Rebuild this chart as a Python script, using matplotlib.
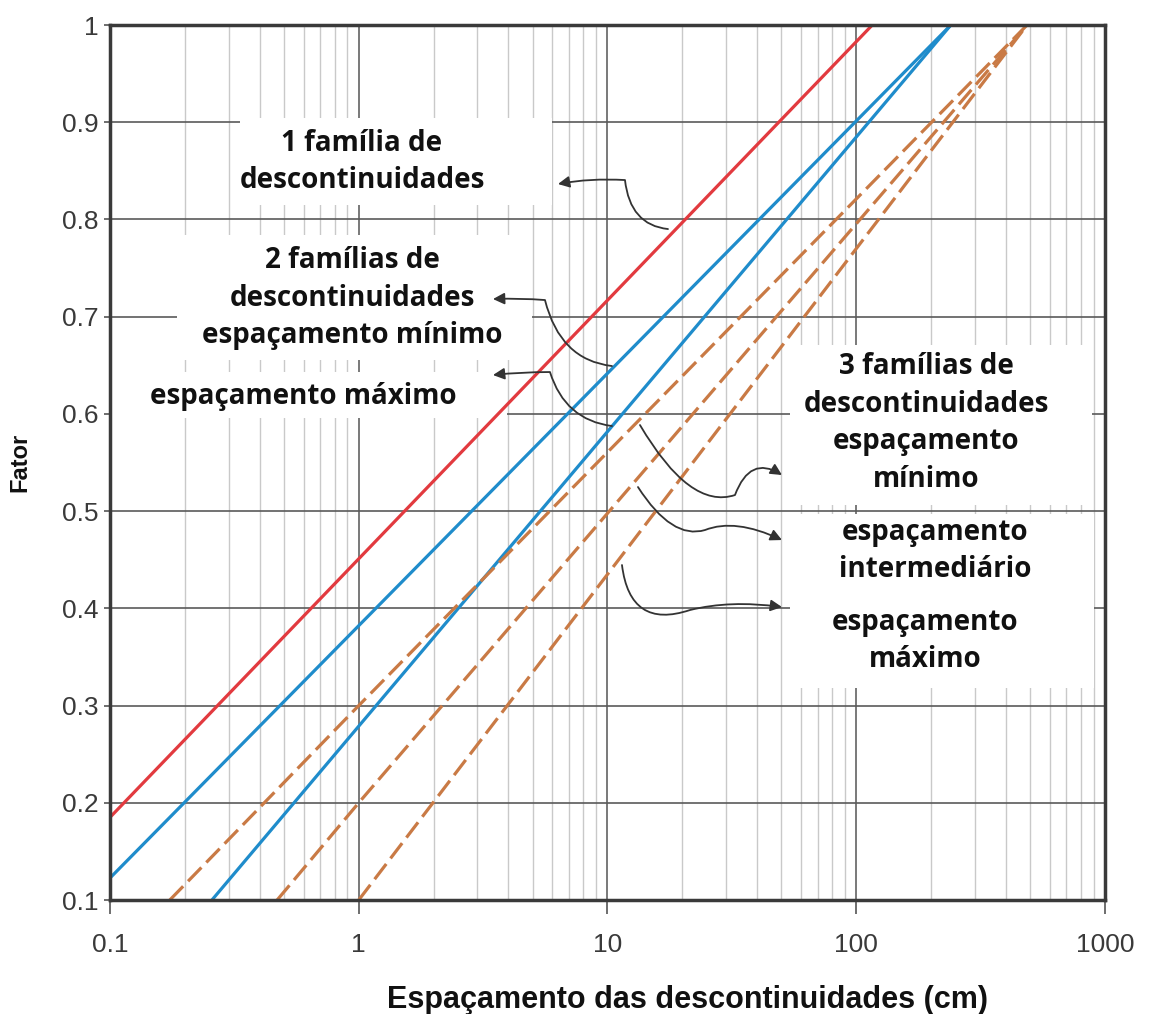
import numpy as np
import matplotlib
matplotlib.use("Agg")
import matplotlib.pyplot as plt
from matplotlib.path import Path
from matplotlib.patches import FancyArrowPatch, Rectangle
from matplotlib.ticker import FixedLocator, NullFormatter

# Data: each curve is a straight line on the semi-log plot (end points)
red_x = [0.1, 116.0]
red_y = [0.185, 1.0]

blue1_x = [0.1, 240.0]
blue1_y = [0.1226, 1.0]

blue2_x = [0.257, 240.0]
blue2_y = [0.1, 1.0]

orange1_x = [0.174, 1.0, 486.0]
orange1_y = [0.1, 0.3, 1.0]

orange2_x = [0.47, 1.0, 486.0]
orange2_y = [0.1, 0.2, 1.0]

orange3_x = [1.0, 486.0]
orange3_y = [0.1, 1.0]

x_ticks = [0.1, 1, 10, 100, 1000]
x_ticklabels = ["0.1", "1", "10", "100", "1000"]
y_ticks = [0.1, 0.2, 0.3, 0.4, 0.5, 0.6, 0.7, 0.8, 0.9, 1.0]
y_ticklabels = ["0.1", "0.2", "0.3", "0.4", "0.5", "0.6", "0.7", "0.8", "0.9", "1"]

RED = "#e23a3f"
BLUE = "#1f8ccb"
ORANGE = "#c97a45"

tick_font = ["Liberation Sans", "DejaVu Sans"]
label_font = ["Open Sans", "DejaVu Sans"]

fig = plt.figure(figsize=(11.49, 10.14), dpi=100)
ax = fig.add_axes([0.0957, 0.1124, 0.866, 0.8629])

ax.set_xscale("log")
ax.set_xlim(0.1, 1000)
ax.set_ylim(0.1, 1.0)

# grid
ax.xaxis.set_minor_locator(FixedLocator(
    [m * 10.0 ** e for e in range(-1, 3) for m in range(2, 10)]))
ax.xaxis.set_minor_formatter(NullFormatter())
ax.grid(True, axis="x", which="minor", color="#c9c9c9", lw=1.0, zorder=0)
ax.grid(True, axis="x", which="major", color="#555555", lw=1.1, zorder=0)
ax.grid(True, axis="y", which="major", color="#5a5a5a", lw=1.2, zorder=0)
ax.set_axisbelow(True)

ax.set_xticks(x_ticks)
ax.set_xticklabels(x_ticklabels)
ax.set_yticks(y_ticks)
ax.set_yticklabels(y_ticklabels)
ax.tick_params(axis="x", which="major", length=10, width=1.2, color="#555555",
               pad=14, labelsize=19, labelcolor="#3a3a3a")
ax.tick_params(axis="x", which="minor", length=0)
ax.tick_params(axis="y", which="major", length=4, width=1.2, color="#555555",
               pad=4, labelsize=19, labelcolor="#3a3a3a")
for lab in ax.get_xticklabels() + ax.get_yticklabels():
    lab.set_family(tick_font)

for s in ax.spines.values():
    s.set_color("#3a3a3a")
    s.set_linewidth(2.5)
    s.set_zorder(5)


def ax_pt(px, py):
    # pixel position of the reference -> axes fraction
    return ((px - 110) / 995.0, (900 - py) / 875.0)


# white areas behind the labels
for (x0, y0, x1, y1) in [(240, 118, 552, 205), (177, 235, 532, 360),
                         (112, 372, 507, 418), (790, 345, 1092, 505),
                         (790, 514, 1094, 688)]:
    fx0, fy1 = ax_pt(x0, y1)
    fx1, fy0 = ax_pt(x1, y0)
    ax.add_patch(Rectangle((fx0, fy1), fx1 - fx0, fy0 - fy1,
                           transform=ax.transAxes, facecolor="white",
                           edgecolor="none", zorder=1.5))

# curves
ax.plot(red_x, red_y, color=RED, lw=2.3, zorder=3)
ax.plot(blue1_x, blue1_y, color=BLUE, lw=2.3, zorder=3)
ax.plot(blue2_x, blue2_y, color=BLUE, lw=2.3, zorder=3)
for xs, ys in [(orange1_x, orange1_y), (orange2_x, orange2_y), (orange3_x, orange3_y)]:
    ax.plot(xs, ys, color=ORANGE, lw=2.3, dashes=(6, 2.2), zorder=3)

ax.set_xlabel("Espaçamento das descontinuidades (cm)", fontsize=22,
              fontweight="bold", family=tick_font, labelpad=20, color="#111111",
              x=0.58)
ax.set_ylabel("Fator", fontsize=17, fontweight="bold", family=tick_font,
              labelpad=22, color="#111111")

txt = dict(transform=ax.transAxes, fontsize=20, fontweight="bold",
           family=label_font, color="#111111", ha="center", va="center",
           zorder=4, linespacing=1.4)

ax.text(*ax_pt(362, 162), "1 família de\ndescontinuidades", **txt)
ax.text(*ax_pt(352, 298), "2 famílias de\ndescontinuidades\nespaçamento mínimo", **txt)
ax.text(*ax_pt(303, 396), "espaçamento máximo", **txt)
ax.text(*ax_pt(926, 423), "3 famílias de\ndescontinuidades\nespaçamento\nmínimo", **txt)
ax.text(*ax_pt(935, 551), "espaçamento\nintermediário", **txt)
ax.text(*ax_pt(925, 641), "espaçamento\nmáximo", **txt)

# wavy arrows from the curves to the labels
arrows = [
    [(668, 229), (630, 225), (625, 180), (590, 178), (558, 184)],
    [(612, 366), (560, 360), (545, 300), (520, 298), (493, 299)],
    [(612, 426), (565, 420), (550, 372), (520, 372), (493, 375)],
    [(640, 425), (690, 510), (735, 495), (750, 455), (782, 475)],
    [(638, 487), (672, 540), (705, 530), (735, 518), (782, 540)],
    [(622, 565), (630, 630), (690, 610), (730, 600), (782, 607)],
]
for pts in arrows:
    p0, c1, mid, c3, p1 = [ax_pt(*p) for p in pts]
    path = Path([p0, c1, mid, mid, c3, p1],
                [Path.MOVETO, Path.CURVE3, Path.CURVE3, Path.LINETO,
                 Path.CURVE3, Path.CURVE3])
    arr = FancyArrowPatch(path=path, arrowstyle="-|>", mutation_scale=17,
                          color="#333333", lw=1.3, transform=ax.transAxes,
                          zorder=4)
    ax.add_patch(arr)

fig.savefig("out.png", dpi=100)
